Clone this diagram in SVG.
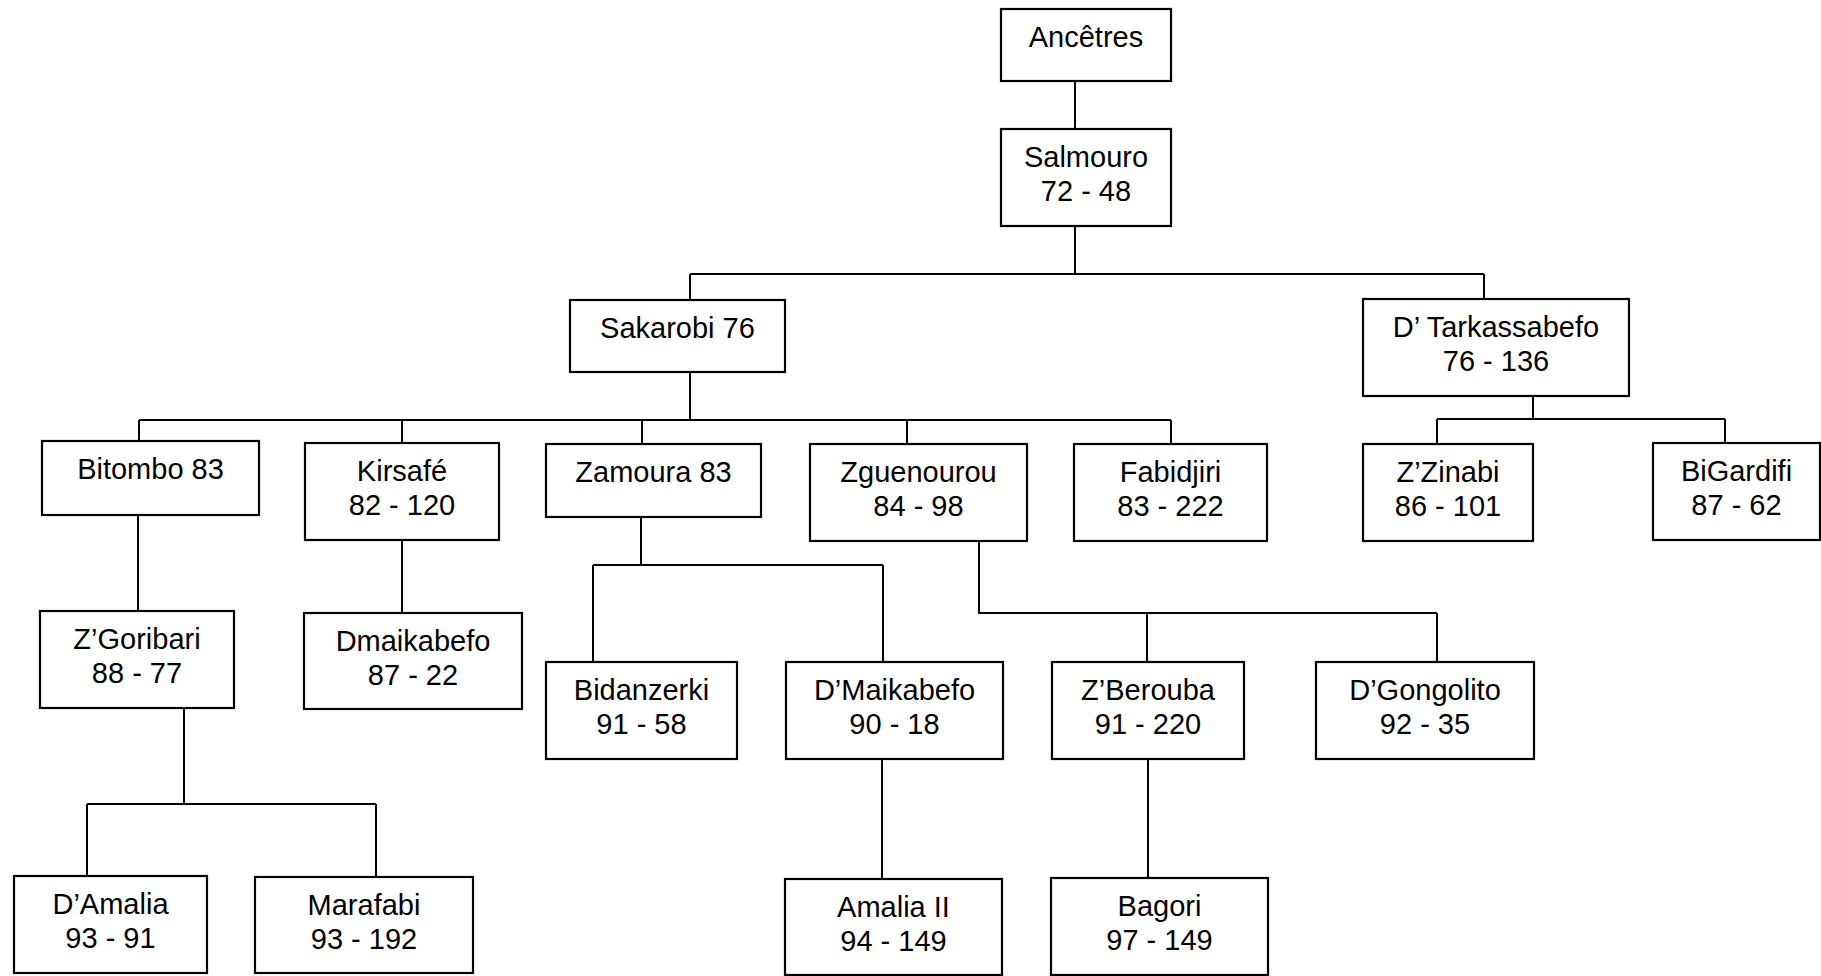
<svg xmlns="http://www.w3.org/2000/svg" width="1821" height="976" viewBox="0 0 1821 976">
<style>
rect{fill:#fff;stroke:#000;stroke-width:2.2}
text{font-family:"Liberation Sans",Arial,sans-serif;font-size:29px;fill:#000;text-anchor:middle}
#connectors path{fill:none;stroke:#000;stroke-width:2}
</style>
<rect x="0" y="0" width="1821" height="976" style="stroke:none"/>
<g id="connectors">
<path d="M1075 81V129"/>
<path d="M1075 226V274M690 274H1484M690 274V300M1484 274V299"/>
<path d="M690 372V420M139 420H1171M139 420V441M402 420V443M642 420V444M907 420V444M1171 420V444"/>
<path d="M1533 396V419M1437 419H1725M1437 419V444M1725 419V443"/>
<path d="M138 515V611"/>
<path d="M402 540V613"/>
<path d="M184 708V804M87 804H376M87 804V876M376 804V877"/>
<path d="M641 517V565M593 565H883M593 565V662M883 565V662"/>
<path d="M979 541V613H1437M1147 613V662M1437 613V662"/>
<path d="M882 759V879"/>
<path d="M1148 759V878"/>
</g>
<g id="ancetres"><rect x="1001" y="9" width="170" height="72"/><text x="1086" y="47">Ancêtres</text></g>
<g id="salmouro"><rect x="1001" y="129" width="170" height="97"/><text x="1086" y="167">Salmouro</text><text x="1086" y="201">72 - 48</text></g>
<g id="sakarobi"><rect x="570" y="300" width="215" height="72"/><text x="677.5" y="338">Sakarobi 76</text></g>
<g id="tarkassabefo"><rect x="1363" y="299" width="266" height="97"/><text x="1496" y="337">D’ Tarkassabefo</text><text x="1496" y="371">76 - 136</text></g>
<g id="bitombo"><rect x="42" y="441" width="217" height="74"/><text x="150.5" y="479">Bitombo 83</text></g>
<g id="kirsafe"><rect x="305" y="443" width="194" height="97"/><text x="402" y="481">Kirsafé</text><text x="402" y="515">82 - 120</text></g>
<g id="zamoura"><rect x="546" y="444" width="215" height="73"/><text x="653.5" y="482">Zamoura 83</text></g>
<g id="zguenourou"><rect x="810" y="444" width="217" height="97"/><text x="918.5" y="482">Zguenourou</text><text x="918.5" y="516">84 - 98</text></g>
<g id="fabidjiri"><rect x="1074" y="444" width="193" height="97"/><text x="1170.5" y="482">Fabidjiri</text><text x="1170.5" y="516">83 - 222</text></g>
<g id="zzinabi"><rect x="1363" y="444" width="170" height="97"/><text x="1448" y="482">Z’Zinabi</text><text x="1448" y="516">86 - 101</text></g>
<g id="bigardifi"><rect x="1653" y="443" width="167" height="97"/><text x="1736.5" y="481">BiGardifi</text><text x="1736.5" y="515">87 - 62</text></g>
<g id="zgoribari"><rect x="40" y="611" width="194" height="97"/><text x="137" y="649">Z’Goribari</text><text x="137" y="683">88 - 77</text></g>
<g id="dmaikabefo"><rect x="304" y="613" width="218" height="96"/><text x="413" y="651">Dmaikabefo</text><text x="413" y="685">87 - 22</text></g>
<g id="bidanzerki"><rect x="546" y="662" width="191" height="97"/><text x="641.5" y="700">Bidanzerki</text><text x="641.5" y="734">91 - 58</text></g>
<g id="dmaikabefo2"><rect x="786" y="662" width="217" height="97"/><text x="894.5" y="700">D’Maikabefo</text><text x="894.5" y="734">90 - 18</text></g>
<g id="zberouba"><rect x="1052" y="662" width="192" height="97"/><text x="1148" y="700">Z’Berouba</text><text x="1148" y="734">91 - 220</text></g>
<g id="dgongolito"><rect x="1316" y="662" width="218" height="97"/><text x="1425" y="700">D’Gongolito</text><text x="1425" y="734">92 - 35</text></g>
<g id="damalia"><rect x="14" y="876" width="193" height="97"/><text x="110.5" y="914">D’Amalia</text><text x="110.5" y="948">93 - 91</text></g>
<g id="marafabi"><rect x="255" y="877" width="218" height="96"/><text x="364" y="915">Marafabi</text><text x="364" y="949">93 - 192</text></g>
<g id="amalia2"><rect x="785" y="879" width="217" height="96"/><text x="893.5" y="917">Amalia II</text><text x="893.5" y="951">94 - 149</text></g>
<g id="bagori"><rect x="1051" y="878" width="217" height="97"/><text x="1159.5" y="916">Bagori</text><text x="1159.5" y="950">97 - 149</text></g>
</svg>
